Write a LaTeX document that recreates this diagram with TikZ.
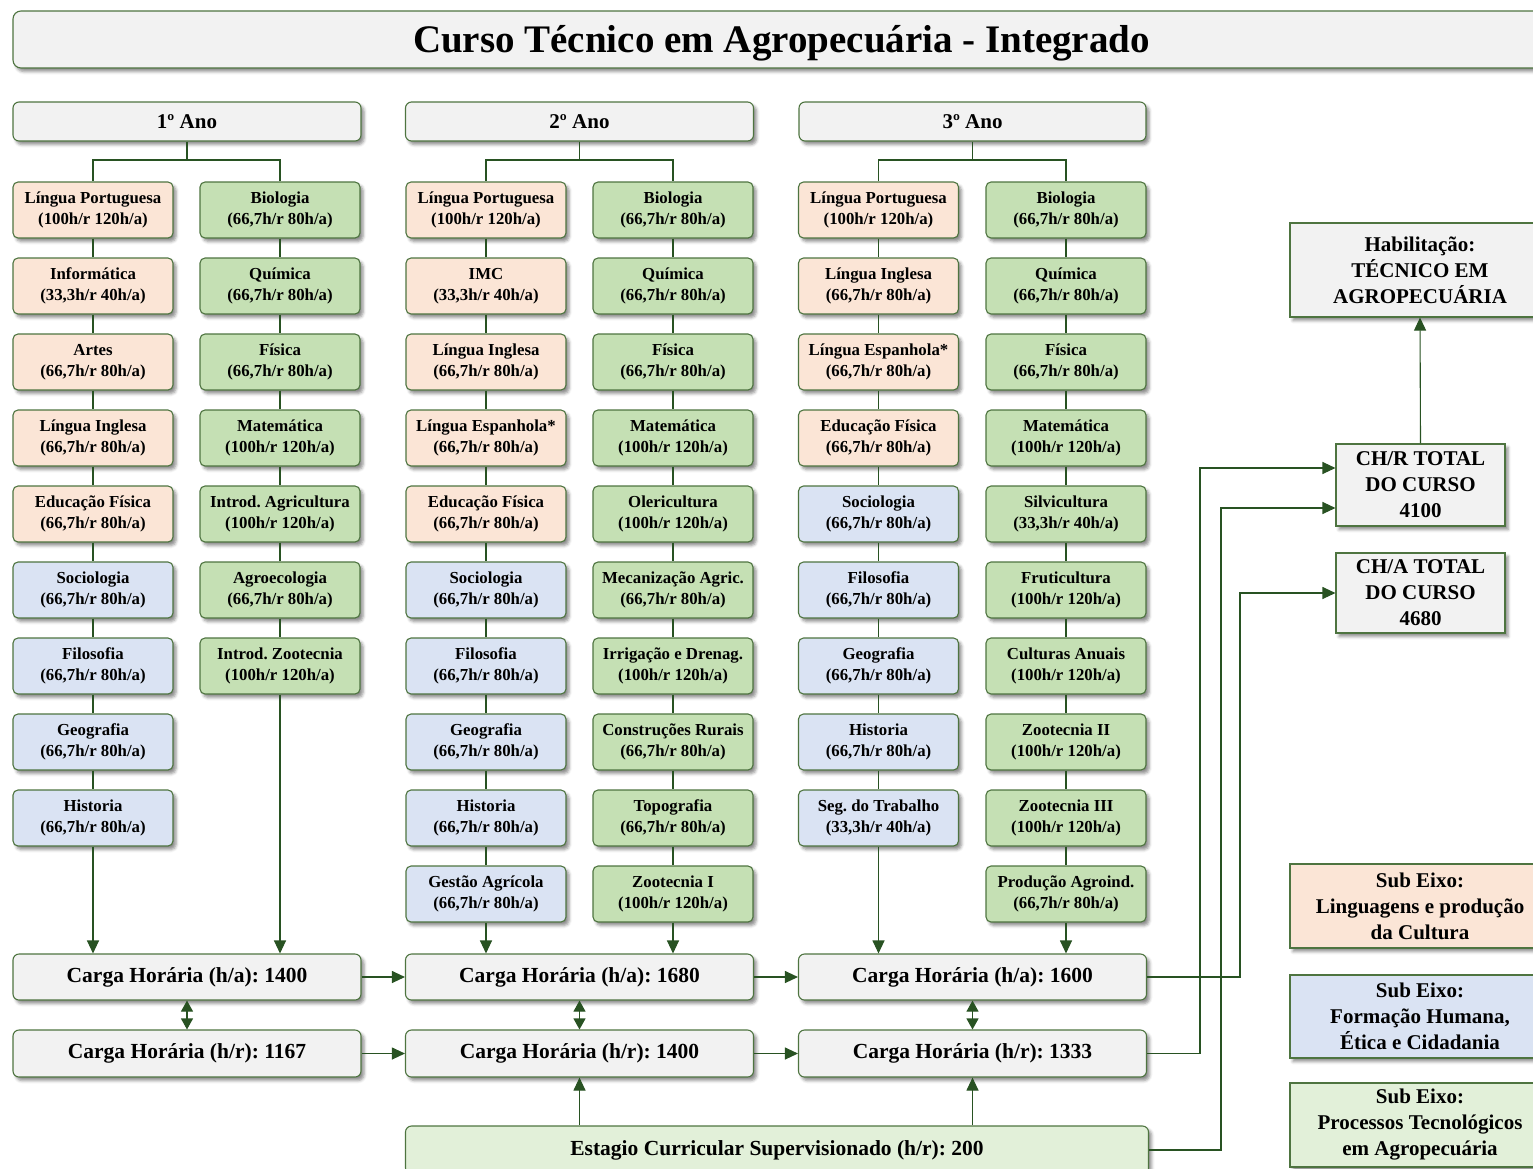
\documentclass[tikz,border=0pt]{standalone}
\usepackage{fontspec}
\setmainfont{Liberation Serif}
\frenchspacing
\usetikzlibrary{arrows.meta,shadows.blur,calc}
\definecolor{bord}{RGB}{78,116,64}
\definecolor{lin}{RGB}{40,82,34}
\definecolor{orf}{RGB}{251,229,214}
\definecolor{grf}{RGB}{197,224,180}
\definecolor{blf}{RGB}{218,227,243}
\definecolor{gyf}{RGB}{242,242,242}
\definecolor{lgf}{RGB}{226,240,217}
\tikzset{
  base/.style={draw=bord, line width=1.1pt, align=center, inner sep=0pt,
    blur shadow={shadow xshift=3pt, shadow yshift=-3.5pt, shadow blur radius=3pt, shadow opacity=45}},
  subj/.style={base, rounded corners=5pt, minimum width=160pt, minimum height=56pt,
    font=\bfseries\fontsize{16.8}{21}\selectfont},
  hdr/.style={base, rounded corners=6pt, fill=gyf, minimum height=39pt,
    font=\bfseries\fontsize{21}{25}\selectfont},
  carga/.style={base, rounded corners=6pt, fill=gyf, minimum width=348pt,
    font=\bfseries\fontsize{21.5}{25}\selectfont},
  side/.style={base, font=\bfseries\fontsize{21}{26}\selectfont},
  conn/.style={draw=lin, line width=1.1pt},
  arr/.style={conn, -{Triangle[length=13pt,width=12pt]}},
  arrtwo/.style={conn, {Triangle[length=11pt,width=12pt]}-{Triangle[length=11pt,width=12pt]}},
}
\newcommand\subjnode[6]{\node[subj,fill=#4] (#1) at (#2,#3) {#5\\#6};}
\begin{document}
\begin{tikzpicture}[x=1pt,y=-1pt]
\path[use as bounding box] (0,0) rectangle (1533,1168);
\clip (0,0) rectangle (1533,1168);

% Title
\node[base, rounded corners=8pt, fill=gyf, minimum width=1537pt, minimum height=57pt,
  text height=30pt, text depth=4pt,
  font=\bfseries\fontsize{39}{44}\selectfont] (title) at (781.5,39.5) {Curso Técnico em Agropecuária - Integrado};

% Year headers
\node[hdr, minimum width=348pt] (h1) at (187,121.5) {1º Ano};
\node[hdr, minimum width=348pt] (h2) at (579.5,121.5) {2º Ano};
\node[hdr, minimum width=347pt] (h3) at (972.5,121.5) {3º Ano};

% Column A
\subjnode{a1}{93}{210}{orf}{Língua Portuguesa}{(100h/r 120h/a)}
\subjnode{a2}{93}{286}{orf}{Informática}{(33,3h/r 40h/a)}
\subjnode{a3}{93}{362}{orf}{Artes}{(66,7h/r 80h/a)}
\subjnode{a4}{93}{438}{orf}{Língua Inglesa}{(66,7h/r 80h/a)}
\subjnode{a5}{93}{514}{orf}{Educação Física}{(66,7h/r 80h/a)}
\subjnode{a6}{93}{590}{blf}{Sociologia}{(66,7h/r 80h/a)}
\subjnode{a7}{93}{666}{blf}{Filosofia}{(66,7h/r 80h/a)}
\subjnode{a8}{93}{742}{blf}{Geografia}{(66,7h/r 80h/a)}
\subjnode{a9}{93}{818}{blf}{Historia}{(66,7h/r 80h/a)}
% Column B
\subjnode{b1}{280}{210}{grf}{Biologia}{(66,7h/r 80h/a)}
\subjnode{b2}{280}{286}{grf}{Química}{(66,7h/r 80h/a)}
\subjnode{b3}{280}{362}{grf}{Física}{(66,7h/r 80h/a)}
\subjnode{b4}{280}{438}{grf}{Matemática}{(100h/r 120h/a)}
\subjnode{b5}{280}{514}{grf}{Introd. Agricultura}{(100h/r 120h/a)}
\subjnode{b6}{280}{590}{grf}{Agroecologia}{(66,7h/r 80h/a)}
\subjnode{b7}{280}{666}{grf}{Introd. Zootecnia}{(100h/r 120h/a)}
% Column C
\subjnode{c1}{486}{210}{orf}{Língua Portuguesa}{(100h/r 120h/a)}
\subjnode{c2}{486}{286}{orf}{IMC}{(33,3h/r 40h/a)}
\subjnode{c3}{486}{362}{orf}{Língua Inglesa}{(66,7h/r 80h/a)}
\subjnode{c4}{486}{438}{orf}{Língua Espanhola*}{(66,7h/r 80h/a)}
\subjnode{c5}{486}{514}{orf}{Educação Física}{(66,7h/r 80h/a)}
\subjnode{c6}{486}{590}{blf}{Sociologia}{(66,7h/r 80h/a)}
\subjnode{c7}{486}{666}{blf}{Filosofia}{(66,7h/r 80h/a)}
\subjnode{c8}{486}{742}{blf}{Geografia}{(66,7h/r 80h/a)}
\subjnode{c9}{486}{818}{blf}{Historia}{(66,7h/r 80h/a)}
\subjnode{c10}{486}{894}{blf}{Gestão Agrícola}{(66,7h/r 80h/a)}
% Column D
\subjnode{d1}{673}{210}{grf}{Biologia}{(66,7h/r 80h/a)}
\subjnode{d2}{673}{286}{grf}{Química}{(66,7h/r 80h/a)}
\subjnode{d3}{673}{362}{grf}{Física}{(66,7h/r 80h/a)}
\subjnode{d4}{673}{438}{grf}{Matemática}{(100h/r 120h/a)}
\subjnode{d5}{673}{514}{grf}{Olericultura}{(100h/r 120h/a)}
\subjnode{d6}{673}{590}{grf}{Mecanização Agric.}{(66,7h/r 80h/a)}
\subjnode{d7}{673}{666}{grf}{Irrigação e Drenag.}{(100h/r 120h/a)}
\subjnode{d8}{673}{742}{grf}{Construções Rurais}{(66,7h/r 80h/a)}
\subjnode{d9}{673}{818}{grf}{Topografia}{(66,7h/r 80h/a)}
\subjnode{d10}{673}{894}{grf}{Zootecnia I}{(100h/r 120h/a)}
% Column E
\subjnode{e1}{878.5}{210}{orf}{Língua Portuguesa}{(100h/r 120h/a)}
\subjnode{e2}{878.5}{286}{orf}{Língua Inglesa}{(66,7h/r 80h/a)}
\subjnode{e3}{878.5}{362}{orf}{Língua Espanhola*}{(66,7h/r 80h/a)}
\subjnode{e4}{878.5}{438}{orf}{Educação Física}{(66,7h/r 80h/a)}
\subjnode{e5}{878.5}{514}{blf}{Sociologia}{(66,7h/r 80h/a)}
\subjnode{e6}{878.5}{590}{blf}{Filosofia}{(66,7h/r 80h/a)}
\subjnode{e7}{878.5}{666}{blf}{Geografia}{(66,7h/r 80h/a)}
\subjnode{e8}{878.5}{742}{blf}{Historia}{(66,7h/r 80h/a)}
\subjnode{e9}{878.5}{818}{blf}{Seg. do Trabalho}{(33,3h/r 40h/a)}
% Column F
\subjnode{f1}{1066}{210}{grf}{Biologia}{(66,7h/r 80h/a)}
\subjnode{f2}{1066}{286}{grf}{Química}{(66,7h/r 80h/a)}
\subjnode{f3}{1066}{362}{grf}{Física}{(66,7h/r 80h/a)}
\subjnode{f4}{1066}{438}{grf}{Matemática}{(100h/r 120h/a)}
\subjnode{f5}{1066}{514}{grf}{Silvicultura}{(33,3h/r 40h/a)}
\subjnode{f6}{1066}{590}{grf}{Fruticultura}{(100h/r 120h/a)}
\subjnode{f7}{1066}{666}{grf}{Culturas Anuais}{(100h/r 120h/a)}
\subjnode{f8}{1066}{742}{grf}{Zootecnia II}{(100h/r 120h/a)}
\subjnode{f9}{1066}{818}{grf}{Zootecnia III}{(100h/r 120h/a)}
\subjnode{f10}{1066}{894}{grf}{Produção Agroind.}{(66,7h/r 80h/a)}

% Carga boxes
\node[carga, minimum height=46pt] (c1a) at (187,977) {Carga Horária (h/a): 1400};
\node[carga, minimum height=47pt] (c1r) at (187,1053.5) {Carga Horária (h/r): 1167};
\node[carga, minimum height=46pt] (c2a) at (579.5,977) {Carga Horária (h/a): 1680};
\node[carga, minimum height=47pt] (c2r) at (579.5,1053.5) {Carga Horária (h/r): 1400};
\node[carga, minimum height=46pt] (c3a) at (972.5,977) {Carga Horária (h/a): 1600};
\node[carga, minimum height=47pt] (c3r) at (972.5,1053.5) {Carga Horária (h/r): 1333};

% Estagio
\node[carga, fill=lgf, minimum width=743pt, minimum height=48pt] (est) at (777,1150) {Estagio Curricular Supervisionado (h/r): 200};

% Right side boxes
\node[side, fill=gyf, minimum width=260pt, minimum height=94pt] (hab) at (1420,270) {Habilitação:\\TÉCNICO EM\\AGROPECUÁRIA};
\node[side, fill=gyf, minimum width=169pt, minimum height=82pt] (chr) at (1420.5,485) {CH/R TOTAL\\DO CURSO\\4100};
\node[side, fill=gyf, minimum width=169pt, minimum height=80pt] (cha) at (1420.5,593) {CH/A TOTAL\\DO CURSO\\4680};
\node[side, fill=orf, minimum width=260pt, minimum height=84pt] (sx1) at (1420,906) {Sub Eixo:\\Linguagens e produção\\da Cultura};
\node[side, fill=blf, minimum width=260pt, minimum height=83pt] (sx2) at (1420,1016.5) {Sub Eixo:\\Formação Humana,\\Ética e Cidadania};
\node[side, fill=lgf, minimum width=260pt, minimum height=84pt] (sx3) at (1420,1125) {Sub Eixo:\\Processos Tecnológicos\\em Agropecuária};

% Header connectors
\coordinate (j1) at (187,160);
\coordinate (j2) at (579.5,160);
\coordinate (j3) at (972.5,160);
\draw[conn] (h1.south) -- (j1) -| (a1.north);
\draw[conn] (j1) -| (b1.north);
\draw[conn] (h2.south) -- (j2) -| (c1.north);
\draw[conn] (j2) -| (d1.north);
\draw[conn] (h3.south) -- (j3) -| (e1.north);
\draw[conn] (j3) -| (f1.north);

% Column chains
\foreach \p/\q in {a1/a2,a2/a3,a3/a4,a4/a5,a5/a6,a6/a7,a7/a8,a8/a9,
  b1/b2,b2/b3,b3/b4,b4/b5,b5/b6,b6/b7,
  c1/c2,c2/c3,c3/c4,c4/c5,c5/c6,c6/c7,c7/c8,c8/c9,c9/c10,
  d1/d2,d2/d3,d3/d4,d4/d5,d5/d6,d6/d7,d7/d8,d8/d9,d9/d10,
  e1/e2,e2/e3,e3/e4,e4/e5,e5/e6,e6/e7,e7/e8,e8/e9,
  f1/f2,f2/f3,f3/f4,f4/f5,f5/f6,f6/f7,f7/f8,f8/f9,f9/f10}
  \draw[conn] (\p.south) -- (\q.north);

% Column to Carga
\draw[arr] (a9.south) -- (a9.south |- c1a.north);
\draw[arr] (b7.south) -- (b7.south |- c1a.north);
\draw[arr] (c10.south) -- (c10.south |- c2a.north);
\draw[arr] (d10.south) -- (d10.south |- c2a.north);
\draw[arr] (e9.south) -- (e9.south |- c3a.north);
\draw[arr] (f10.south) -- (f10.south |- c3a.north);

% Carga links
\draw[arr] (c1a.east) -- (c2a.west);
\draw[arr] (c2a.east) -- (c3a.west);
\draw[arr] (c1r.east) -- (c2r.west);
\draw[arr] (c2r.east) -- (c3r.west);
\draw[arrtwo] (c1a.south) -- (c1r.north);
\draw[arrtwo] (c2a.south) -- (c2r.north);
\draw[arrtwo] (c3a.south) -- (c3r.north);

% Estagio to Carga
\draw[arr] (est.north -| c2r.south) -- (c2r.south);
\draw[arr] (est.north -| c3r.south) -- (c3r.south);

% To totals
\coordinate (k1) at (1240,0);
\coordinate (k2) at (1200,0);
\coordinate (k3) at (1221,0);
\coordinate (chrin1) at ([yshift=17pt]chr.west);
\coordinate (chrin2) at ([yshift=-23pt]chr.west);
\draw[arr] (c3a.east) -| (k1 |- cha.west) -- (cha.west);
\draw[arr] (c3r.east) -| (k2 |- chrin1) -- (chrin1);
\draw[arr] (est.east) -| (k3 |- chrin2) -- (chrin2);
\draw[arr] (chr.north) -- (hab.south);
\end{tikzpicture}
\end{document}
